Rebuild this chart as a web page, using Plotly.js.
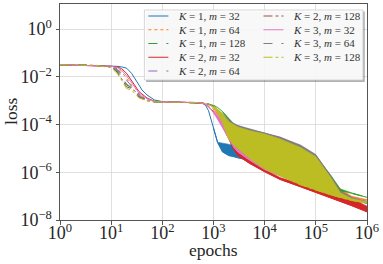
<!DOCTYPE html>
<html><head><meta charset="utf-8">
<script src="https://cdn.plot.ly/plotly-3.0.1.min.js"></script>
<style>html,body{margin:0;padding:0;background:#fff}#chart{width:383px;height:264px}</style>
</head><body><div id="chart"></div>
<script>
// ---- data ----
const epochs = [1, 5, 10, 13, 16, 20, 25, 30, 35, 40, 50, 70, 100, 200, 500, 600, 700, 800,
  1000, 1200, 1500, 2000, 2500, 3000, 5000, 1e4, 2e4, 5e4, 1e5, 2e5, 3e5, 5e5, 1e6];
const bandEpochs = [1000, 1200, 1500, 2000, 2500, 3000, 5000, 1e4, 2e4, 5e4, 1e5, 2e5, 3e5, 5e5, 1e6];

const seriesLabels = ['K = 1, m = 32', 'K = 1, m = 64', 'K = 1, m = 128', 'K = 2, m = 32', 'K = 2, m = 64',
  'K = 2, m = 128', 'K = 3, m = 32', 'K = 3, m = 64', 'K = 3, m = 128'];

const xTitle = 'epochs';
const yTitle = 'loss';
const xTickVals = [1, 10, 100, 1000, 1e4, 1e5, 1e6];
const xTickLabels = ['10<sup>0</sup>', '10<sup>1</sup>', '10<sup>2</sup>', '10<sup>3</sup>', '10<sup>4</sup>', '10<sup>5</sup>', '10<sup>6</sup>'];
const yTickVals = [1, 1e-2, 1e-4, 1e-6, 1e-8];
const yTickLabels = ['10<sup>0</sup>', '10<sup>\u22122</sup>', '10<sup>\u22124</sup>', '10<sup>\u22126</sup>', '10<sup>\u22128</sup>'];

// loss curves (lower line) per run
const loss_K1_m32 = [3.2e-2, 3.0e-2, 2.8e-2, 2.75e-2, 2.6e-2, 2.3e-2, 1.4e-2, 7.9e-3, 4.5e-3, 2.8e-3, 1.74e-3, 1.07e-3, 9.1e-4, 8.7e-4, 8.3e-4, 7.9e-4, 6.3e-4, 3.8e-4,
  7.1e-5, 1.8e-5, 7.1e-6, 5.0e-6, 4.5e-6, 4.0e-6, 3.2e-6, 1.4e-6, 7.9e-7, 3.2e-7, 1.9e-7, 1.1e-7, 8.9e-8, 7.1e-8, 5.0e-8];
const loss_K1_m64 = [3.2e-2, 3.0e-2, 2.7e-2, 2.4e-2, 1.6e-2, 8.9e-3, 4.5e-3, 3.2e-3, 1.9e-3, 1.5e-3, 1.1e-3, 9.1e-4, 8.9e-4, 8.7e-4, 8.3e-4, 7.9e-4, 7.4e-4, 6.6e-4,
  4.5e-4, 2.8e-4, 1.26e-4, 3.2e-5, 1.1e-5, 7.1e-6, 3.5e-6, 1.4e-6, 7.6e-7, 3.8e-7, 2.4e-7, 1.4e-7, 1.1e-7, 8.9e-8, 6.8e-8];
const loss_K1_m128 = [3.2e-2, 3.0e-2, 2.6e-2, 1.8e-2, 1.0e-2, 4.5e-3, 3.5e-3, 2.5e-3, 1.5e-3, 1.26e-3, 1.02e-3, 8.9e-4, 8.9e-4, 8.7e-4, 8.5e-4, 8.3e-4, 7.9e-4, 7.4e-4,
  6.3e-4, 5.2e-4, 3.5e-4, 1.6e-4, 5.0e-5, 2.0e-5, 6.3e-6, 2.5e-6, 1.1e-6, 5.0e-7, 3.2e-7, 2.2e-7, 1.7e-7, 1.3e-7, 8.9e-8];
const loss_K2_m32 = [3.2e-2, 3.0e-2, 2.75e-2, 2.6e-2, 2.2e-2, 1.4e-2, 7.1e-3, 4.0e-3, 2.4e-3, 1.9e-3, 1.3e-3, 9.5e-4, 8.9e-4, 8.7e-4, 8.3e-4, 7.9e-4, 7.1e-4, 5.6e-4,
  3.5e-4, 2.0e-4, 8.9e-5, 2.5e-5, 8.9e-6, 5.0e-6, 2.4e-6, 1.05e-6, 5.0e-7, 2.5e-7, 1.4e-7, 8.3e-8, 6.0e-8, 4.0e-8, 2.2e-8];
const loss_K2_m64 = [3.2e-2, 3.0e-2, 2.6e-2, 2.2e-2, 1.3e-2, 7.1e-3, 4.0e-3, 3.2e-3, 1.8e-3, 1.4e-3, 1.1e-3, 9.1e-4, 8.9e-4, 8.7e-4, 8.5e-4, 8.3e-4, 7.9e-4, 7.2e-4,
  5.6e-4, 4.0e-4, 2.0e-4, 4.5e-5, 1.6e-5, 1.0e-5, 4.5e-6, 1.6e-6, 7.9e-7, 3.5e-7, 2.1e-7, 1.26e-7, 9.5e-8, 7.6e-8, 6.0e-8];
const loss_K2_m128 = [3.2e-2, 3.0e-2, 2.6e-2, 1.6e-2, 8.3e-3, 3.8e-3, 3.2e-3, 2.4e-3, 1.4e-3, 1.26e-3, 1.0e-3, 8.9e-4, 8.9e-4, 8.7e-4, 8.5e-4, 8.3e-4, 7.9e-4, 7.2e-4,
  5.6e-4, 3.8e-4, 1.8e-4, 4.0e-5, 1.4e-5, 9.5e-6, 4.0e-6, 1.5e-6, 7.6e-7, 3.3e-7, 2.0e-7, 1.2e-7, 9.1e-8, 7.1e-8, 5.5e-8];
const loss_K3_m32 = [3.2e-2, 3.0e-2, 2.75e-2, 2.5e-2, 1.9e-2, 1.1e-2, 5.6e-3, 3.5e-3, 2.1e-3, 1.66e-3, 1.2e-3, 9.3e-4, 8.9e-4, 8.7e-4, 8.3e-4, 7.9e-4, 7.1e-4, 6.0e-4,
  3.2e-4, 1.8e-4, 7.9e-5, 2.5e-5, 1.1e-5, 7.1e-6, 3.3e-6, 1.3e-6, 7.1e-7, 3.5e-7, 2.2e-7, 1.26e-7, 9.5e-8, 7.6e-8, 5.5e-8];
const loss_K3_m64 = [3.2e-2, 3.0e-2, 2.6e-2, 2.0e-2, 1.1e-2, 5.0e-3, 3.5e-3, 2.8e-3, 1.6e-3, 1.3e-3, 1.05e-3, 8.9e-4, 8.9e-4, 8.7e-4, 8.5e-4, 8.3e-4, 7.9e-4, 7.2e-4,
  5.6e-4, 3.8e-4, 1.9e-4, 4.2e-5, 1.5e-5, 1.0e-5, 4.2e-6, 1.5e-6, 7.6e-7, 3.3e-7, 2.0e-7, 1.2e-7, 9.1e-8, 7.2e-8, 5.8e-8];
const loss_K3_m128 = [3.2e-2, 3.0e-2, 2.4e-2, 1.4e-2, 7.1e-3, 3.2e-3, 2.8e-3, 1.9e-3, 1.3e-3, 1.17e-3, 1.0e-3, 8.9e-4, 8.9e-4, 8.7e-4, 8.3e-4, 8.1e-4, 7.9e-4, 7.2e-4,
  5.2e-4, 3.2e-4, 1.26e-4, 2.5e-5, 1.4e-5, 1.0e-5, 4.0e-6, 1.4e-6, 7.1e-7, 3.0e-7, 1.8e-7, 1.1e-7, 8.7e-8, 6.6e-8, 5.0e-8];

// upper envelope of the oscillating loss, at bandEpochs
const peak_K1_m32 = [7.1e-5, 1.8e-5, 1.66e-5, 1.5e-5, 1.4e-5, 1.26e-5, 1.0e-5, 4.5e-6, 1.2e-6, 3.5e-7, 2.0e-7, 1.17e-7, 9.3e-8, 7.4e-8, 5.2e-8];
const peak_K1_m64 = [4.5e-4, 3.2e-4, 2.0e-4, 1.0e-4, 5.6e-5, 4.0e-5, 2.5e-5, 1.6e-5, 1.0e-5, 5.0e-6, 2.5e-6, 6.3e-7, 2.0e-7, 1.0e-7, 7.1e-8];
const peak_K1_m128 = [6.3e-4, 5.2e-4, 3.5e-4, 1.74e-4, 1.07e-4, 8.7e-5, 6.0e-5, 4.4e-5, 2.75e-5, 1.2e-5, 4.8e-6, 7.1e-7, 2.0e-7, 1.38e-7, 9.3e-8];
const peak_K2_m32 = [3.5e-4, 2.2e-4, 1.1e-4, 4.0e-5, 1.6e-5, 8.9e-6, 4.0e-6, 1.3e-6, 6.0e-7, 3.2e-7, 2.4e-7, 1.5e-7, 1.17e-7, 7.9e-8, 3.8e-8];
const peak_K2_m64 = [5.6e-4, 4.2e-4, 2.8e-4, 1.4e-4, 1.05e-4, 8.9e-5, 6.3e-5, 4.5e-5, 3.0e-5, 1.3e-5, 5.2e-6, 6.3e-7, 1.6e-7, 8.9e-8, 6.3e-8];
const peak_K2_m128 = [5.6e-4, 4.0e-4, 2.6e-4, 1.5e-4, 1.0e-4, 8.3e-5, 6.0e-5, 4.0e-5, 2.8e-5, 1.26e-5, 5.0e-6, 6.0e-7, 1.5e-7, 8.3e-8, 5.8e-8];
const peak_K3_m32 = [4.0e-4, 2.5e-4, 1.4e-4, 5.6e-5, 2.8e-5, 2.0e-5, 8.9e-6, 3.5e-6, 1.6e-6, 7.6e-7, 4.2e-7, 1.9e-7, 1.26e-7, 8.9e-8, 6.0e-8];
const peak_K3_m64 = [5.6e-4, 4.2e-4, 2.75e-4, 1.6e-4, 1.1e-4, 9.1e-5, 6.6e-5, 4.6e-5, 2.9e-5, 1.4e-5, 5.5e-6, 6.6e-7, 1.6e-7, 8.7e-8, 6.0e-8];
const peak_K3_m128 = [6.3e-4, 4.5e-4, 2.8e-4, 1.3e-4, 9.5e-5, 7.9e-5, 5.6e-5, 4.0e-5, 2.5e-5, 1.1e-5, 4.5e-6, 5.6e-7, 1.4e-7, 7.9e-8, 5.8e-8];

// ---- styles ----
const losses = [loss_K1_m32, loss_K1_m64, loss_K1_m128, loss_K2_m32, loss_K2_m64, loss_K2_m128, loss_K3_m32, loss_K3_m64, loss_K3_m128];
const peaks = [peak_K1_m32, peak_K1_m64, peak_K1_m128, peak_K2_m32, peak_K2_m64, peak_K2_m128, peak_K3_m32, peak_K3_m64, peak_K3_m128];
const colors = ['#1f77b4', '#ff7f0e', '#2ca02c', '#d62728', '#9467bd', '#8c564b', '#e377c2', '#7f7f7f', '#bcbd22'];
const dashes = ['solid', 'dot', 'dash', 'solid', 'dash', 'dashdot', 'solid', 'dash', 'dashdot'];

const traces = [];
losses.forEach((loss, i) => {
  const lowAtBand = bandEpochs.map(e => loss[epochs.indexOf(e)]);
  traces.push({
    x: bandEpochs.concat(bandEpochs.slice().reverse()),
    y: peaks[i].concat(lowAtBand.slice().reverse()),
    mode: 'lines', fill: 'toself', fillcolor: colors[i],
    line: {color: colors[i], width: 0.6}, showlegend: false, hoverinfo: 'skip'
  });
  traces.push({
    x: epochs, y: loss, mode: 'lines', name: seriesLabels[i],
    line: {color: colors[i], width: 1, dash: dashes[i]}
  });
});

// plot area geometry (px)
const L = 60, R = 16.3, T = 4, B = 44, W = 383, H = 264;
const pw = W - L - R, ph = H - T - B;
const px = v => (v - L) / pw;
const py = v => (H - B - v) / ph;

const FONT = 'Liberation Serif, Times New Roman, serif';
const TXT = '#262626';
const shapes = [
  {type: 'rect', xref: 'paper', yref: 'paper', x0: px(146), x1: px(364.5), y0: py(11.5), y1: py(82),
   fillcolor: 'rgba(0,0,0,0.3)', line: {width: 0}},
  {type: 'rect', xref: 'paper', yref: 'paper', x0: px(144.3), x1: px(362.7), y0: py(10), y1: py(80),
   fillcolor: 'rgba(255,255,255,0.9)', line: {color: '#cccccc', width: 0.8}}
];
const annotations = [
  {xref: 'paper', yref: 'paper', x: px(213), y: py(250), xanchor: 'center', yanchor: 'middle',
   text: xTitle, showarrow: false, font: {family: FONT, size: 17.5, color: TXT}},
  {xref: 'paper', yref: 'paper', x: px(11), y: py(111), xanchor: 'center', yanchor: 'middle', textangle: -90,
   text: yTitle, showarrow: false, font: {family: FONT, size: 17.5, color: TXT}}
];
seriesLabels.forEach((lab, i) => {
  const col = i < 5 ? 0 : 1, row = i < 5 ? i : i - 5;
  const yc = 16 + row * 13.75;
  const x0 = col ? 263.3 : 148.3;
  shapes.push({type: 'line', xref: 'paper', yref: 'paper', x0: px(x0), x1: px(x0 + 20), y0: py(yc), y1: py(yc),
    line: {color: colors[i], width: 1, dash: dashes[i]}});
  const txt = lab.replace(/K/, '<i>K</i>').replace(/m/, '<i>m</i>');
  annotations.push({xref: 'paper', yref: 'paper', x: px(x0 + 27.5), y: py(yc), xanchor: 'left', yanchor: 'middle',
    text: txt, showarrow: false, font: {family: FONT, size: 11, color: '#333'}});
});

const axisCommon = {
  type: 'log', showgrid: true, gridcolor: '#d8d8d8', gridwidth: 0.8,
  showline: true, linecolor: '#555', linewidth: 1, mirror: true,
  ticks: 'outside', ticklen: 3.5, tickcolor: '#555', zeroline: false,
  tickmode: 'array',
  tickfont: {family: FONT, size: 18, color: TXT}
};

const layout = {
  width: W, height: H,
  margin: {l: L, r: R, t: T, b: B},
  paper_bgcolor: '#fff', plot_bgcolor: '#fff',
  showlegend: false,
  xaxis: Object.assign({}, axisCommon, {range: [0, 6], tickvals: xTickVals, ticktext: xTickLabels, ticklabelstandoff: -7}),
  yaxis: Object.assign({}, axisCommon, {range: [-8, 1.05], tickvals: yTickVals, ticktext: yTickLabels}),
  shapes: shapes, annotations: annotations
};

Plotly.newPlot('chart', traces, layout, {staticPlot: true, displayModeBar: false});
</script></body></html>
